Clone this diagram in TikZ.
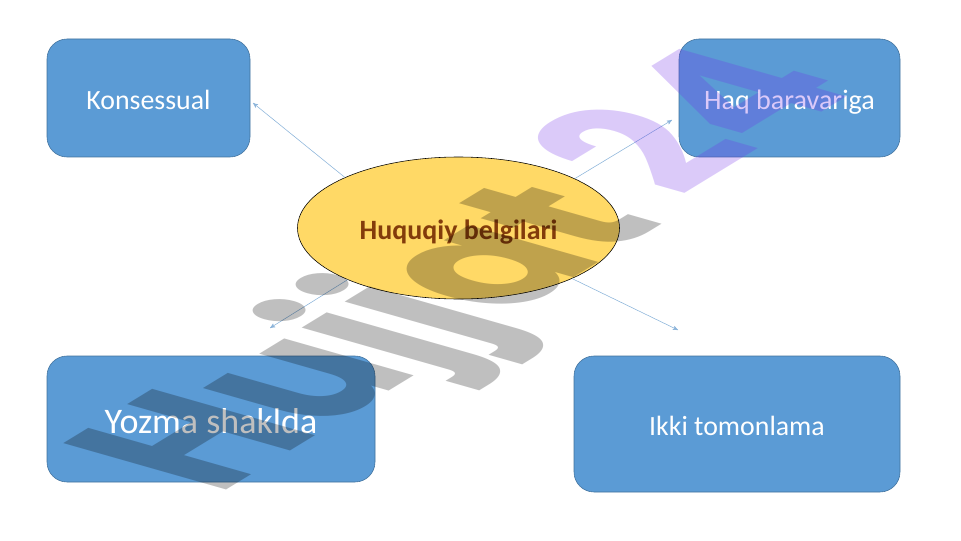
\documentclass[tikz,border=0pt]{standalone}
\usepackage{fontspec}
\setmainfont{Carlito}
\newfontfamily\markfont{Poppins}
\usepackage{tikz}
\usetikzlibrary{shapes.geometric, positioning, arrows}
\definecolor{boxblue}{RGB}{91,155,213}
\definecolor{boxline}{RGB}{65,113,156}
\definecolor{gold}{RGB}{255,217,102}
\definecolor{titlebrown}{RGB}{131,60,11}
\definecolor{markviolet}{RGB}{113,43,233}
\definecolor{linkblue}{RGB}{140,180,218}

\begin{document}
\begin{tikzpicture}[>=stealth',
        base box/.style={rectangle,rounded corners=0.5cm,draw=boxline,fill=boxblue,text=white,line width=0.4pt,text height=18pt,text depth=2.2pt},
        link/.style={every edge/.style={draw=linkblue,line width=0.4pt,->}}]
        \useasboundingbox (0,0) rectangle (24.025,13.5);
        \node[base box,minimum width=5.075cm,minimum height=2.95cm,font=\fontsize{19.8}{23}\selectfont] (kons) at (3.7125,11.05) {Konsessual\hspace{0.2cm}};
        \node[base box,minimum width=5.525cm,minimum height=2.95cm,font=\fontsize{20}{23}\selectfont] (haq) at (19.7375,11.05) {Haq baravariga};
        \node[base box,minimum width=8.2cm,minimum height=3.15cm,text height=22pt,text depth=2pt,font=\fontsize{25.6}{30}\selectfont] (yozma) at (5.275,3.025) {Yozma shaklda};
        \node[base box,minimum width=8.15cm,minimum height=3.4cm,font=\fontsize{19.8}{23}\selectfont] (ikki) at (18.425,2.9) {Ikki tomonlama};
        \node[ellipse,draw=black,fill=gold,text=titlebrown,line width=0.4pt,inner sep=0pt,minimum width=8.05cm,minimum height=3.55cm,text height=20pt,text depth=3pt,font=\fontsize{19.9}{23}\selectfont\bfseries] (huquq) at (11.4625,7.8) {Huquqiy belgilari};

        \coordinate (kons end) at (6.325,10.925);
        \coordinate (haq end) at (16.8,10.5);
        \coordinate (yozma end) at (6.75,5.3);
        \coordinate (ikki end) at (16.95,5.25);

        \path[link]
        (huquq.156) edge (kons end)
        (huquq.23) edge (haq end)
        (huquq.205) edge (yozma end)
        (huquq.336) edge (ikki end);

        \node[cm={1.04,0.635,-1.65,0.47,(5.425,1.1)},transform shape,anchor=base west,inner sep=0pt,text opacity=0.25,
            font=\fontsize{100}{100}\markfont\bfseries] (mark) at (0,0) {Hujjat \raisebox{0.25cm}{\textcolor{markviolet}{24}}};
    \end{tikzpicture}
\end{document}
